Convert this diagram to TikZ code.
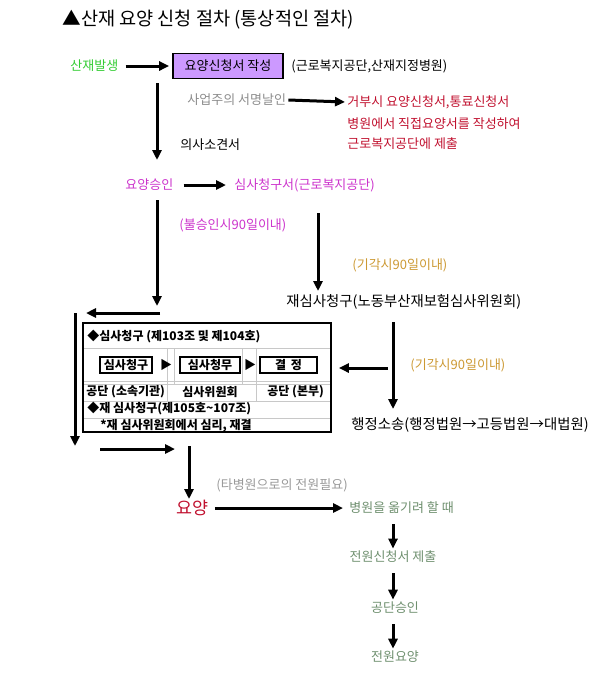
\documentclass[tikz,border=0pt]{standalone}
\usepackage{fontspec}
\setmainfont{Noto Sans CJK KR}
\usepackage{tikz}
\usetikzlibrary{arrows.meta,positioning}
\definecolor{sanjaegreen}{HTML}{33CC33}
\definecolor{formpurple}{HTML}{CC99FF}
\definecolor{refusered}{HTML}{C0102E}
\definecolor{reviewmagenta}{HTML}{CC33CC}
\definecolor{dismissorange}{HTML}{CC9933}
\definecolor{movegreen}{HTML}{6E8F6E}
\definecolor{gridgray}{HTML}{C8C8C8}

\begin{document}
\begin{tikzpicture}[x=0.5pt,y=-0.5pt,
  lbl/.style={font=\fontsize{6.5}{8}\selectfont,inner sep=1pt,anchor=west},
  widelbl/.style={font=\fontsize{7.2}{8}\selectfont,inner sep=1pt,anchor=west},
  boxlbl/.style={font=\bfseries\fontsize{6}{7}\selectfont,inner sep=1pt,anchor=west},
  stepbox/.style={draw,line width=.8pt,fill=white,font=\bfseries\fontsize{6}{7}\selectfont,
    minimum height=8pt,inner sep=1pt},
  flow/.style={line width=1.5pt,-{Triangle[length=5pt,width=4.5pt]}}]
\path[use as bounding box] (0,0) rectangle (600,675);
% title
\node[anchor=west,inner sep=0pt,font=\fontsize{9.3}{11}\selectfont] (title) at (62,20) {▲산재 요양 신청 절차 (통상적인 절차)};
% application
\node[lbl,text=sanjaegreen] (occur) at (68,66) {산재발생};
\node[draw,line width=.8pt,fill=formpurple,minimum width=55pt,minimum height=12.5pt,inner sep=1pt,
  font=\fontsize{6.5}{8}\selectfont] (form) at (228,66) {요양신청서 작성};
\node[lbl] (formwhere) at (289,66) {(근로복지공단,산재지정병원)};
\draw[flow] ([xshift=2.5pt]occur.east) -- ([xshift=-1.5pt]form.west);
\node[lbl,text=black!45] (sign) at (185,100) {사업주의 서명날인};
\node[lbl,text=refusered] (refuse1) at (345,102) {거부시 요양신청서,통료신청서};
\node[lbl,text=refusered] (refuse2) at (345,124) {병원에서 직접요양서를 작성하여};
\node[lbl,text=refusered] (refuse3) at (345,144) {근로복지공단에 제출};
\draw[flow] (sign.east) -- (refuse1.west);
\node[lbl] (opinion) at (178,145) {의사소견서};
\coordinate (c1) at (157,83);
\coordinate (c2) at (157,160);
\draw[flow] (c1) -- (c2);
% approval and review
\node[lbl,text=reviewmagenta] (approve) at (123,185) {요양승인};
\node[lbl,text=reviewmagenta] (review) at (232,185) {심사청구서(근로복지공단)};
\draw[flow] ([xshift=4pt]approve.east) -- ([xshift=-3pt]review.west);
\node[lbl,text=reviewmagenta] (reject90) at (177,225) {(불승인시90일이내)};
\coordinate (c3) at (318,213);
\coordinate (c4) at (318,291);
\draw[flow] (c3) -- (c4);
\node[lbl,text=dismissorange] (dismissa) at (350,265) {(기각시90일이내)};
\node[widelbl] (rereview) at (284,302) {재심사청구(노동부산재보험심사위원회)};
\coordinate (c5) at (157,200);
\coordinate (c6) at (157,306);
\draw[flow] (c5) -- (c6);
\coordinate (c7) at (160,313);
\coordinate (c8) at (86,313);
\draw[flow] (c7) -- (c8);
\coordinate (c9) at (75,313);
\coordinate (c10) at (75,446);
\draw[flow] (c9) -- (c10);
% review panel
\node[draw,line width=.8pt,minimum width=124pt,minimum height=54.5pt,inner sep=0pt] (panel) at (207,377.5) {};
\draw[gridgray,line width=.5pt] (84,348) -- (330,348) (84,381) -- (330,381) (84,384) -- (330,384)
  (84,401) -- (330,401) (84,418) -- (330,418)
  (167,348) -- (167,401) (174,348) -- (174,384) (242,348) -- (242,384) (256,348) -- (256,401);
\node[boxlbl] (head1) at (85,337) {◆심사청구 (제103조 및 제104호)};
\node[stepbox,minimum width=26pt] (s1) at (126,365) {심사청구};
\node[stepbox,minimum width=30pt] (s2) at (210,365) {심사청무};
\node[stepbox,minimum width=28.5pt] (s3) at (288.5,365) {결 \,정};
\node[inner sep=0pt,font=\fontsize{6}{7}\selectfont] (t1) at (166,365) {▶};
\node[inner sep=0pt,font=\fontsize{6}{7}\selectfont] (t2) at (250,365) {▶};
\node[boxlbl] (who1) at (84,392) {공단 (소속기관)};
\node[boxlbl] (who2) at (180,392) {심사위원회};
\node[boxlbl] (who3) at (265,392) {공단 (본부)};
\node[boxlbl] (head2) at (85,409) {◆재 심사청구(제105호\textasciitilde107조)};
\node[boxlbl] (note) at (98,426) {*재 심사위원회에서 심리, 재결};
% lawsuit
\coordinate (c11) at (388,368);
\draw[flow] (c11) -- ([xshift=3.5pt]c11 -| panel.east);
\coordinate (c12) at (393,322);
\coordinate (c13) at (393,409);
\draw[flow] (c12) -- (c13);
\node[lbl,text=dismissorange] (dismissb) at (408,365) {(기각시90일이내)};
\node[widelbl] (lawsuit) at (349,425) {행정소송(행정법원→고등법원→대법원)};
\coordinate (c14) at (100,449);
\coordinate (c15) at (175,449);
\draw[flow] (c14) -- (c15);
\coordinate (c16) at (189,446);
\coordinate (c17) at (189,499);
\draw[flow] (c16) -- (c17);
% treatment and transfer
\node[lbl,text=black!40] (needmove) at (214,485) {(타병원으로의 전원필요)};
\node[anchor=west,inner sep=1pt,text=refusered,font=\fontsize{8.7}{10}\selectfont] (care) at (174,508) {요양};
\node[lbl,text=movegreen] (move) at (347,508) {병원을 옮기려 할 때};
\draw[flow] ([xshift=2pt]care.east) -- ([xshift=-2pt]move.west);
\node[lbl,anchor=center,text=movegreen] (submit) at (393,557) {전원신청서 제출};
\node[lbl,anchor=center,text=movegreen] (grant) at (395,608) {공단승인};
\node[lbl,anchor=center,text=movegreen] (transfer) at (395,657) {전원요양};
\draw[flow] (393,524) -- (submit.north -| 393,0);
\draw[flow] (393,573) -- (grant.north -| 393,0);
\draw[flow] (393,624) -- (transfer.north -| 393,0);
\end{tikzpicture}
\end{document}
